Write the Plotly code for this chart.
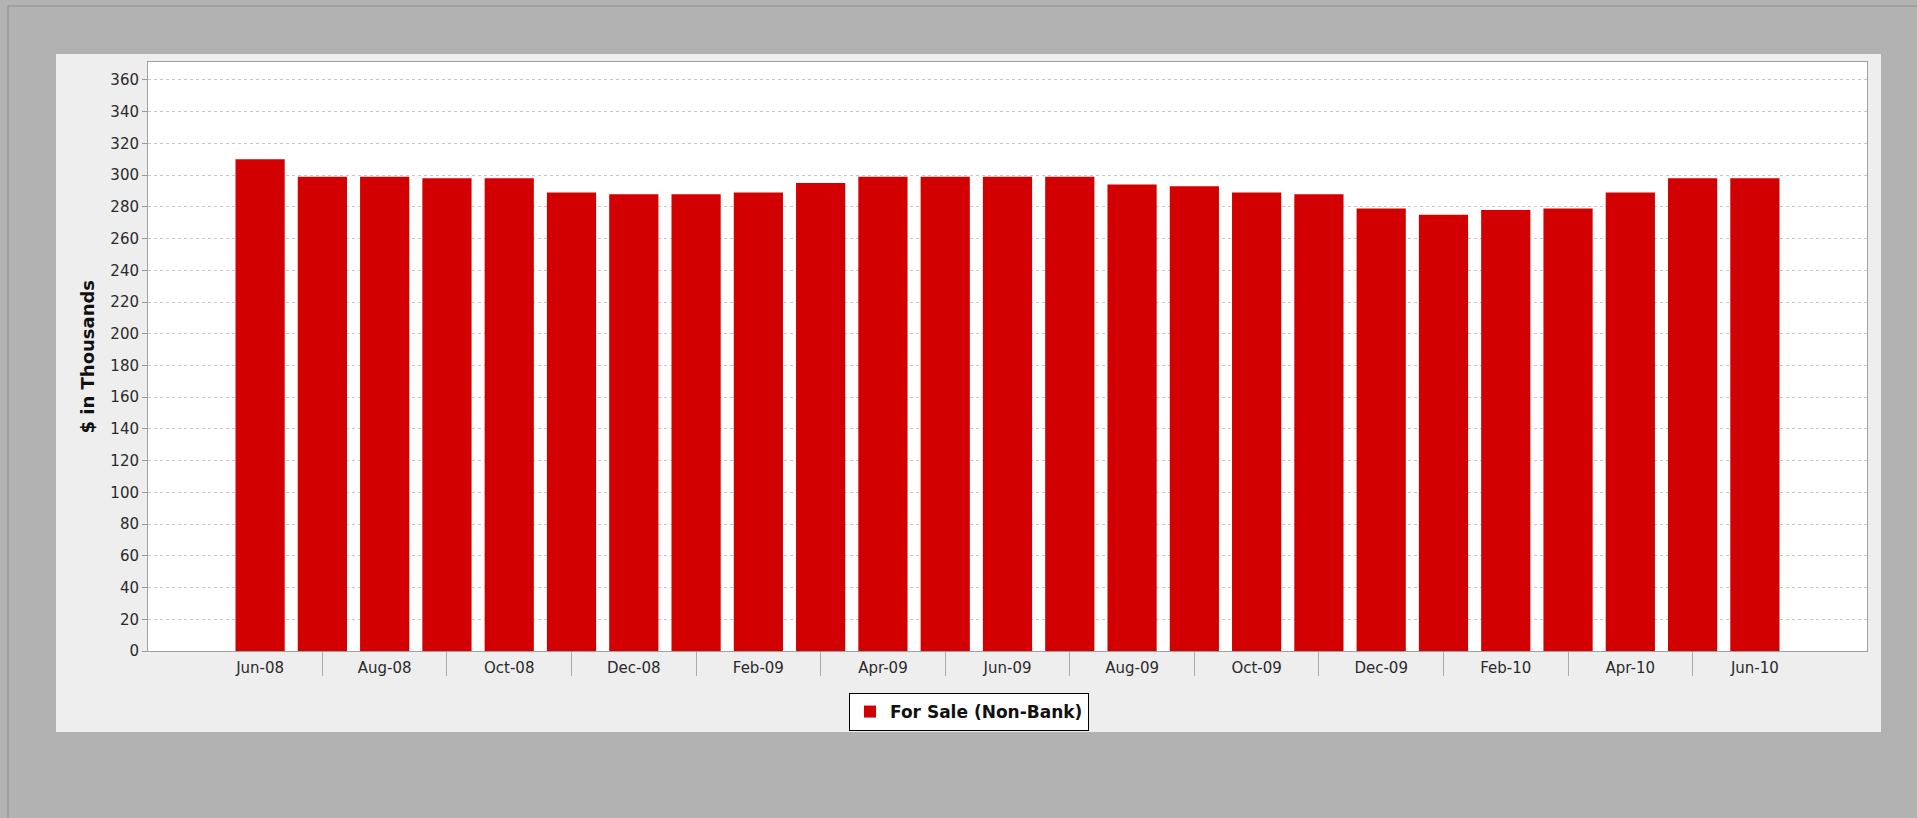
import plotly.graph_objects as go

months = ["Jun-08", "Jul-08", "Aug-08", "Sep-08", "Oct-08", "Nov-08", "Dec-08", "Jan-09",
          "Feb-09", "Mar-09", "Apr-09", "May-09", "Jun-09", "Jul-09", "Aug-09", "Sep-09",
          "Oct-09", "Nov-09", "Dec-09", "Jan-10", "Feb-10", "Mar-10", "Apr-10", "May-10", "Jun-10"]
values = [310, 299, 299, 298, 298, 289, 288, 288, 289, 295, 299, 299, 299, 299, 294, 293,
          289, 288, 279, 275, 278, 279, 289, 298, 298]
y_ticks = list(range(0, 361, 20))
series_name = "For Sale (Non-Bank)"

W, H = 1917, 818
L, R, T, B = 148, 1867, 62, 651
pw, ph = R - L, B - T

def px(x):
    return (x - L) / pw

def py(y):
    return (B - y) / ph

idx = list(range(len(months)))
label_idx = idx[0::2]
sep_idx = idx[1::2]

fig = go.Figure()
fig.add_trace(go.Bar(
    x=idx, y=values, name=series_name,
    marker=dict(color="#D20000", line=dict(width=0)),
    showlegend=True,
))

font_main = "DejaVu Sans"

fig.update_layout(
    width=W, height=H,
    margin=dict(l=L, r=W - R, t=T, b=H - B, pad=0),
    paper_bgcolor="#B2B2B2",
    plot_bgcolor="#FFFFFF",
    bargap=0.21,
    font=dict(family=font_main, size=15, color="#333333"),
    showlegend=True,
    legend=dict(
        x=px(849), y=py(693), xanchor="left", yanchor="top",
        orientation="h",
        bgcolor="#FFFFFF", bordercolor="#000000", borderwidth=1,
        font=dict(family=font_main, size=17, color="#111111", weight="bold"),
        itemwidth=30,
    ),
    xaxis=dict(
        range=[-1.8, 25.8],
        tickmode="array", tickvals=label_idx,
        ticktext=[months[i] for i in label_idx],
        ticks="", showgrid=False, zeroline=False,
        showline=True, linecolor="#A0A0A0", linewidth=1, mirror=True,
        tickfont=dict(size=15, color="#2A2A2A"),
        ticklabelstandoff=3,
        minor=dict(tickmode="array", tickvals=sep_idx, ticks="outside",
                   ticklen=24, tickcolor="#AAAAAA", tickwidth=1, showgrid=False),
    ),
    yaxis=dict(
        range=[0, 371.3],
        tickmode="array", tickvals=y_ticks,
        ticktext=[str(v) for v in y_ticks],
        ticks="outside", ticklen=5, tickcolor="#999999",
        showgrid=True, gridcolor="#C8C8C8", gridwidth=1, griddash="3px,3px",
        zeroline=False,
        showline=True, linecolor="#A0A0A0", linewidth=1, mirror=True,
        tickfont=dict(size=15, color="#2A2A2A"),
    ),
    shapes=[
        dict(type="line", xref="paper", yref="paper",
             x0=px(8), x1=px(W), y0=py(6), y1=py(6),
             line=dict(color="#8E8E8E", width=1), layer="below"),
        dict(type="line", xref="paper", yref="paper",
             x0=px(8), x1=px(8), y0=py(6), y1=py(H),
             line=dict(color="#8E8E8E", width=1), layer="below"),
        dict(type="rect", xref="paper", yref="paper",
             x0=px(56), x1=px(1881), y0=py(54), y1=py(732),
             line=dict(width=0), fillcolor="#EEEEEE", layer="below"),
        dict(type="rect", xref="paper", yref="paper",
             x0=0, x1=1, y0=0, y1=1,
             line=dict(width=0), fillcolor="#FFFFFF", layer="below"),
    ],
    annotations=[
        dict(text="<b>$ in Thousands</b>", xref="paper", yref="paper",
             x=px(87), y=0.5, xanchor="center", yanchor="middle",
             textangle=-90, showarrow=False,
             font=dict(family=font_main, size=18, color="#111111")),
    ],
)

fig.write_html(
    "out.html",
    config={"displayModeBar": False},
    post_script="document.body.style.margin='0';document.body.style.overflow='hidden';"
                "document.body.style.background='#B2B2B2';",
)
